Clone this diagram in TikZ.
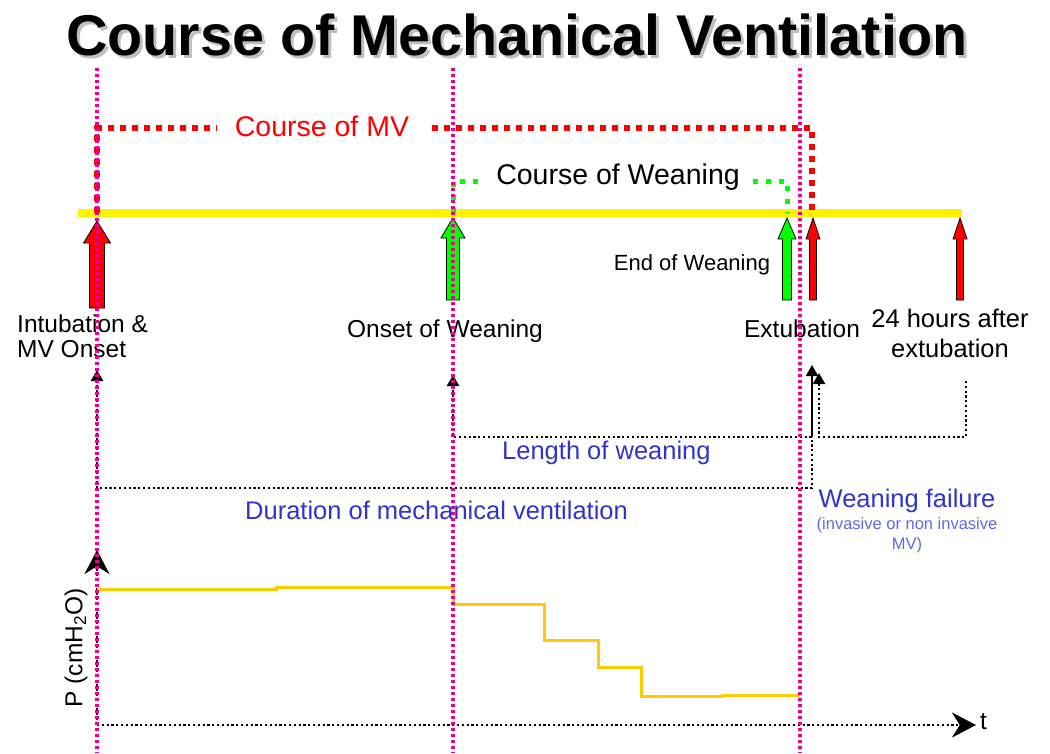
\documentclass[tikz,border=0pt]{standalone}
\usepackage{fontspec}
\setmainfont{Liberation Sans}
\usepackage{tikz}
\usetikzlibrary{arrows.meta,positioning}
\definecolor{mvred}{RGB}{255,0,0}
\definecolor{wgreen}{RGB}{0,255,0}
\definecolor{pgold}{RGB}{255,204,0}
\definecolor{lblue}{RGB}{51,51,204}
\definecolor{nblue}{RGB}{102,102,230}
\newcommand{\fsz}[2]{\fontsize{#1}{#2}\selectfont}
% block arrow: x, tip y, bottom y, shaft half width, head half width, head base y, colour
\newcommand{\blockarrow}[7]{%
  \filldraw[fill=#7, draw=black, line width=0.8pt, line join=miter]
    (#1-#4,#3) -- (#1-#4,#6) -- (#1-#5,#6) -- (#1,#2) -- (#1+#5,#6) -- (#1+#4,#6) -- (#1+#4,#3) -- cycle}

\begin{document}
\begin{tikzpicture}[x=1pt, y=-1pt, >={Triangle[width=12pt,length=11pt]},
  guide/.style={magenta, line width=3.2pt, dash pattern=on 3pt off 3pt},
  mvdots/.style={mvred, line width=6pt, dash pattern=on 6pt off 6pt},
  wdots/.style={wgreen, line width=5pt, dash pattern=on 5pt off 8pt},
  bdots/.style={black, line width=2.4pt, dash pattern=on 2.2pt off 2.6pt},
  lbl/.style={inner sep=0pt, font=\fsz{24.5}{25}},
  bluelbl/.style={inner sep=0pt, text=lblue, font=\fsz{25.5}{28}}]
  \useasboundingbox (0,0) rectangle (1050,753);
  \fill[white] (0,0) rectangle (1050,753);

  % title with its shadow
  \node[anchor=base west, inner sep=0pt, text=black!25, font=\fsz{57.5}{60}\bfseries] at (69,58) {Course of Mechanical Ventilation};
  \node (title) [anchor=base west, inner sep=0pt, font=\fsz{57.5}{60}\bfseries] at (66,55) {Course of Mechanical Ventilation};

  % time line and events
  \coordinate (intub) at (97,213);
  \coordinate (onset) at (453,213);
  \coordinate (endw) at (787,213);
  \coordinate (extub) at (812,213);
  \coordinate (after) at (960,213);
  \draw[yellow, line width=8pt] (78,213) -- (962,213);

  % course of MV
  \coordinate (mvl) at (217,128);
  \coordinate (mvr) at (432,128);
  \draw[mvdots] (intub) |- (mvl);
  \draw[mvdots] (mvr) -| (extub);
  \node (mvtext) [anchor=base, inner sep=0pt, text=mvred, font=\fsz{28.5}{30}] at (322,136) {Course of MV};

  % course of weaning
  \coordinate (wl) at (484,181);
  \coordinate (wr) at (753,181);
  \draw[wdots] (onset) |- (wl);
  \draw[wdots] (wr) -| (endw);
  \node (wtext) [anchor=base, inner sep=0pt, font=\fsz{28.5}{30}] at (618,184) {Course of Weaning};

  \blockarrow{97}{221}{308}{7.5}{13.5}{243}{mvred};
  \blockarrow{453}{218}{300}{6.5}{12}{238}{wgreen};
  \blockarrow{787}{218}{300}{4.5}{9}{239}{wgreen};
  \blockarrow{813}{218}{300}{3.5}{7}{239}{mvred};
  \blockarrow{960}{218}{300}{3.5}{7}{239}{mvred};

  \node (intubtext) [lbl, anchor=base west, align=left] at (17,357) {Intubation \&\\MV Onset};
  \node (onsettext) [lbl, anchor=base] at (445,337) {Onset of Weaning};
  \node (endwtext) [lbl, anchor=base, font=\fsz{22}{24}] at (692,270) {End of Weaning};
  \node (extubtext) [lbl, anchor=base] at (802,337) {Extubation};
  \node (aftertext) [lbl, anchor=base, align=center, font=\fsz{25.5}{30}] at (950,357) {24 hours after\\extubation};

  % lengths
  \coordinate (intubtip) at (97,370);
  \coordinate (onsettip) at (453,375);
  \coordinate (extubtip) at (812,365);
  \coordinate (failtip) at (819,373);
  \coordinate (aftertip) at (966,380);
  \coordinate (durl) at (97,488);
  \coordinate (durr) at (812,488);
  \coordinate (lenr) at (812,437);
  \coordinate (faill) at (819,437);
  \draw[bdots, <-] (intubtip) -- (durl) -- (durr) -- (lenr);
  \draw[bdots, <-] (onsettip) |- (lenr);
  \draw[line width=2pt, ->] (lenr) -- (extubtip);
  \draw[bdots, <-] (failtip) -- (faill) -| (aftertip);

  \node (lentext) [bluelbl, anchor=base west] at (502,459) {Length of weaning};
  \node (durtext) [bluelbl, anchor=base west] at (245,519) {Duration of mechanical ventilation};
  \node (failtext) [bluelbl, anchor=base] at (907,507) {Weaning failure};
  \node (failnote) [inner sep=0pt, anchor=base, align=center, text=nblue, font=\fsz{16.5}{20}] at (907,549) {(invasive or non invasive\\MV)};

  % pressure chart
  \coordinate (origin) at (97,725);
  \coordinate (ytip) at (97,550);
  \coordinate (xtip) at (976,725);
  \draw[bdots, -{Stealth[length=24pt,width=25pt]}] (origin) -- (ytip);
  \draw[bdots, -{Stealth[length=24pt,width=25pt]}] (origin) -- (xtip);
  \node (tlabel) [lbl, anchor=base west] at (980,729) {t};
  \node (plabel) [lbl, rotate=90] at (76,648) {P (cmH\textsubscript{2}O)};
  \draw[pgold, line width=3pt] (97,589) -- (276,589) -- (276,587) -- (453,587) -- (453,604)
    -- (544,604) -- (544,640) -- (598,640) -- (598,667) -- (641,667) -- (641,696)
    -- (722,696) -- (722,695) -- (800,695);

  % event guides
  \foreach \gx in {97,453,800}
    \draw[guide] (\gx,68) -- (\gx,753);
\end{tikzpicture}
\end{document}
